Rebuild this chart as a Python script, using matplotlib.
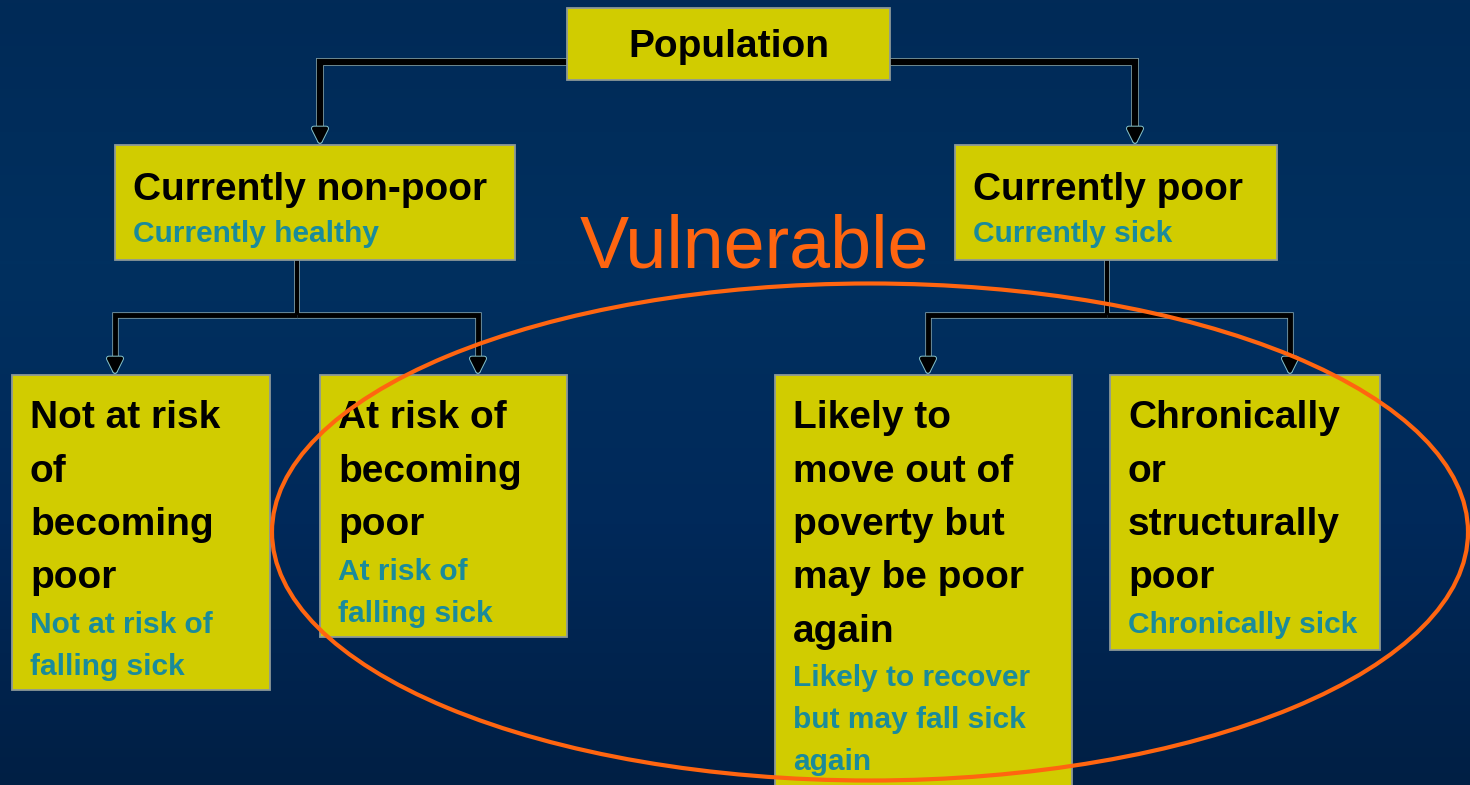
import numpy as np
import matplotlib.pyplot as plt
import matplotlib.patheffects as pe
from matplotlib.patches import Rectangle, Ellipse
from matplotlib.colors import LinearSegmentedColormap

# diagram content
root_label = "Population"
mid_titles = ["Currently non-poor", "Currently poor"]
mid_subs = ["Currently healthy", "Currently sick"]
leaf_titles = [
    ["Not at risk", "of", "becoming", "poor"],
    ["At risk of", "becoming", "poor"],
    ["Likely to", "move out of", "poverty but", "may be poor", "again"],
    ["Chronically", "or", "structurally", "poor"],
]
leaf_subs = [
    ["Not at risk of", "falling sick"],
    ["At risk of", "falling sick"],
    ["Likely to recover", "but may fall sick", "again"],
    ["Chronically sick"],
]
highlight_label = "Vulnerable"

# layout (pixel coords, y downwards)
root_box = (567, 8, 323, 72)
mid_boxes = [(115, 145, 400, 115), (955, 145, 322, 115)]
leaf_boxes = [(12, 375, 258, 315), (320, 375, 247, 262),
              (775, 375, 297, 430), (1110, 375, 270, 275)]

BOX = '#d1cc00'
SUB = '#1a8b9b'
ORANGE = '#ff6510'
FONT = 'Liberation Sans'

fig = plt.figure(figsize=(14.7, 7.85), dpi=100)
ax = fig.add_axes([0, 0, 1, 1])
ax.set_xlim(0, 1470)
ax.set_ylim(785, 0)
ax.axis('off')

# background gradient
bg = LinearSegmentedColormap.from_list('bg', ['#012a57', '#00305f', '#00295a', '#001f44'])
grad = np.linspace(0, 1, 256).reshape(-1, 1)
ax.imshow(grad, cmap=bg, extent=(0, 1470, 785, 0), aspect='auto', zorder=0)


def draw_box(b):
    x, y, w, h = b
    ax.add_patch(Rectangle((x, y), w, h, facecolor=BOX, edgecolor='#8c9898',
                           lw=1.3, zorder=3))


def line(xs, ys, lw=3.5):
    # light outline underneath, black line on top, so junctions merge cleanly
    ax.plot(xs, ys, color='#7f9ea6', lw=lw + 1.2, solid_capstyle='butt',
            solid_joinstyle='miter', zorder=1.5)
    ax.plot(xs, ys, color='black', lw=lw, solid_capstyle='butt',
            solid_joinstyle='miter', zorder=2)


def elbow(x0, y0, x1, y1, lw=3.5):
    # horizontal from (x0, y0) to x1, then down to y1 with an arrowhead
    line([x0, x1, x1], [y0, y0, y1 - 14], lw=lw)
    ax.annotate('', xy=(x1, y1), xytext=(x1, y1 - 16),
                arrowprops=dict(arrowstyle='-|>,head_length=0.9,head_width=0.45',
                                color='black', lw=2.6, shrinkA=0, shrinkB=0,
                                path_effects=[pe.Stroke(linewidth=4.0, foreground='#86c4cc'), pe.Normal()]),
                zorder=2)


# connectors
elbow(567, 62, 320, 145, lw=4.5)
elbow(890, 62, 1135, 145, lw=4.5)
line([297, 297], [260, 315], lw=3)
elbow(297, 315, 115, 375)
elbow(297, 315, 478, 375)
line([1107, 1107], [260, 315], lw=3)
elbow(1107, 315, 928, 375)
elbow(1107, 315, 1290, 375)

# root
draw_box(root_box)
ax.text(root_box[0] + root_box[2] / 2, 57, root_label, ha='center', va='baseline',
        fontsize=28, fontweight='bold', family=FONT, color='black', zorder=4)

# middle level
for b, t, s in zip(mid_boxes, mid_titles, mid_subs):
    draw_box(b)
    ax.text(b[0] + 18, 200, t, ha='left', va='baseline', fontsize=28,
            fontweight='bold', family=FONT, color='black', zorder=4)
    ax.text(b[0] + 18, 242, s, ha='left', va='baseline', fontsize=21.5,
            fontweight='bold', family=FONT, color=SUB, zorder=4)

# leaves
for b, titles, subs in zip(leaf_boxes, leaf_titles, leaf_subs):
    draw_box(b)
    y = 428
    for t in titles:
        ax.text(b[0] + 18, y, t, ha='left', va='baseline', fontsize=28,
                fontweight='bold', family=FONT, color='black', zorder=4)
        y += 53.5
    y -= 9
    for s in subs:
        ax.text(b[0] + 18, y, s, ha='left', va='baseline', fontsize=21.5,
                fontweight='bold', family=FONT, color=SUB, zorder=4)
        y += 42

# vulnerable group
ax.add_patch(Ellipse((870, 532), 1196, 497, angle=0, fill=False,
                     edgecolor=ORANGE, lw=3, zorder=5))
ax.text(580, 268, highlight_label, ha='left', va='baseline', fontsize=53,
        family=FONT, color=ORANGE, zorder=5)

fig.savefig('out.png', dpi=100)
